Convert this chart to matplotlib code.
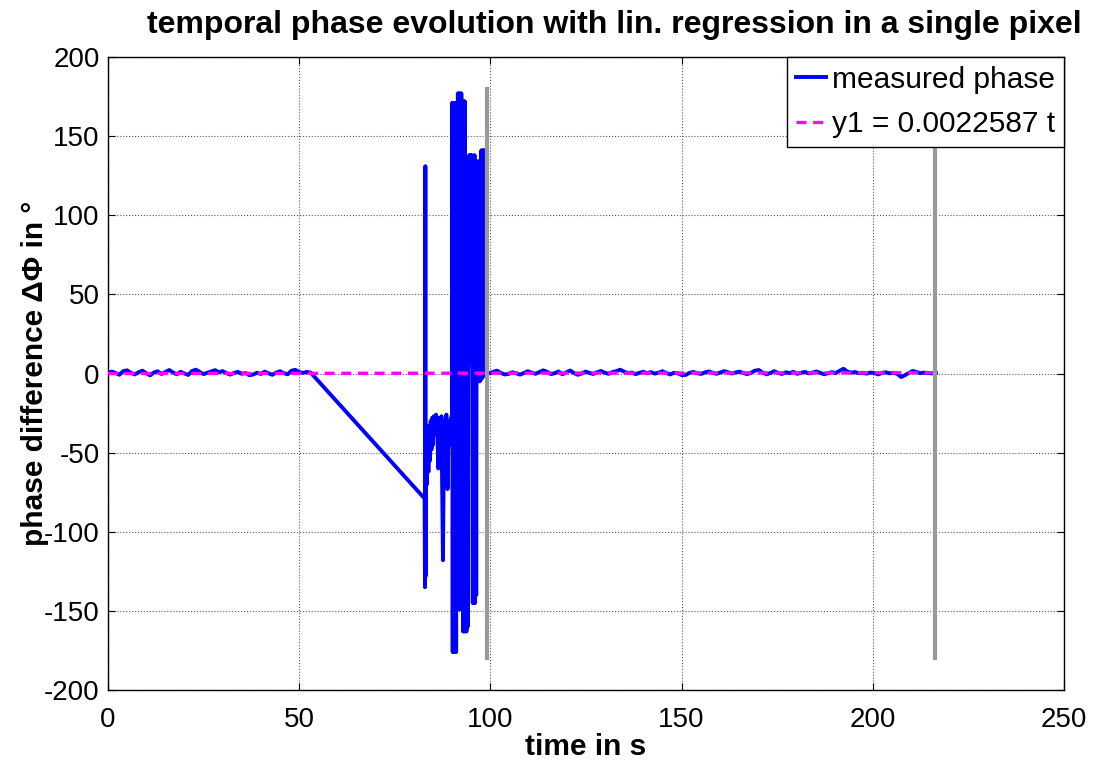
import numpy as np
import matplotlib
matplotlib.use("Agg")
import matplotlib.pyplot as plt

plt.rcParams['font.family'] = ['Liberation Sans', 'DejaVu Sans']
plt.rcParams['axes.unicode_minus'] = False

# ---- data ----
# quiet phase before the disturbance (0 .. 53 s, ~1 s spacing)
pre_y = [0.5, 1.2, 0.3, -0.8, 1.5, 2.0, 0.4, -0.6, 0.8, 1.8, 0.2, -1.2, 0.6, 1.4,
         -0.3, 0.9, 2.2, 0.7, -0.5, 1.1, 0.0, -0.9, 1.6, 2.4, 1.0, -0.4, 0.5, 1.3,
         2.1, 0.8, 1.5, 0.2, -0.7, 0.4, 1.0, -0.2, 0.3, -1.1, -0.6, 0.5, -0.3, 1.2,
         0.1, -0.8, 0.6, 1.4, 0.2, -0.5, 1.8, 2.3, 0.9, 0.4, 1.0, 0.6]
pre_t0, pre_t1 = 0.0, 53.0

# disturbed section (82.8 .. 98.55 s)
chaos_t = [82.8, 82.9, 83.0, 83.1, 83.2, 83.4, 83.6, 83.8, 84.0, 84.2, 84.4, 84.6,
           84.8, 85.0, 85.2, 85.5, 85.8, 86.1, 86.4, 86.6, 86.9, 87.2, 87.6, 87.9,
           88.2, 88.5, 88.8, 89.1, 89.4, 89.7, 89.95,
           90.0, 90.15, 90.3, 90.45, 90.6, 90.75, 90.9, 91.05, 91.2,
           91.35, 91.5, 91.65, 91.8, 91.95, 92.1, 92.25, 92.4, 92.55,
           92.7, 92.85, 93.0, 93.15, 93.3, 93.45,
           93.6, 93.75, 93.9, 94.05, 94.2,
           94.35, 94.5, 94.65, 94.8, 94.95, 95.1, 95.25,
           95.4, 95.55, 95.7, 95.85, 96.0, 96.15, 96.3,
           96.45, 96.6, 96.75, 96.9, 97.05, 97.2,
           97.35, 97.5,
           97.65, 97.8, 97.95, 98.1, 98.25, 98.4, 98.55]
chaos_y = [-79, -135, 131, -128, -40, -70, -35, -62, -33, -55, -30, -48,
           -28, -45, -27, -38, -26, -35, -60, -28, -40, -27, -118, -30,
           -40, -26, -73, -30, -45, -28, -38,
           171, -176, 171, -176, 171, -176, 171, -176, 171,
           -149, 177, -149, 177, -149, 177, -149, 177, -149,
           172, -163, 172, -163, 172, -163,
           126, -163, 117, -160, 120,
           5, 138, 9, 138, 79, 138, 2,
           -145, 134, -145, 138, -145, 134, -140,
           134, 27, 134, -3, 134, -5,
           121, -4,
           141, -3, 141, -2, 141, -1, 141]

# quiet phase after the disturbance (98.7 .. 216.5 s, ~1 s spacing)
post_y = [0.5, 0.2, 1.0, 1.8, 0.4, -0.6, -0.3, 0.8, 0.1, -0.7, 0.3, 1.4, 0.6, -0.2,
          0.9, 2.0, 1.1, -0.4, 0.2, 1.3, -0.5, 0.7, 1.9, 0.3, -0.8, 0.0, 1.2, 0.4,
          -0.3, 0.8, 1.6, 0.5, -0.2, 0.9, 1.5, 2.4, 1.2, 0.3, 0.6, -0.4, 0.4, 1.1,
          0.2, 0.9, -0.1, 0.6, 1.4, 0.3, -0.6, 0.5, 0.1, -1.0, -0.9, 0.4, 1.0, 0.2,
          -0.3, 0.7, 1.3, 0.5, -0.2, 0.6, 1.5, 0.8, 0.0, 0.7, 1.2, 0.3, -0.4, 0.5,
          1.8, 2.2, 0.6, -0.5, 0.3, 1.5, 0.4, -0.3, 0.8, 0.2, 1.1, -0.2, 0.5, 1.0,
          0.1, 0.6, 1.3, 0.4, -0.5, 0.2, 0.9, 0.3, 1.7, 3.0, 1.2, 0.6, 0.9, 0.2,
          0.5, -0.1, 0.6, 0.3, -0.6, 0.4, 0.8, 0.1, 0.5, -0.3, -2.2, -1.0, 0.4,
          1.6, 0.9, 0.2, 0.6, 0.3, 0.1, 0.4]
post_t0, post_t1 = 98.7, 216.5

slope = 0.0022587          # regression y1 = slope * t
fit_t = [0.0, 216.0]

marker_t = [99.1, 216.3]   # grey vertical markers
marker_y = [-180, 180]

xticks = [0, 50, 100, 150, 200, 250]
yticks = [-200, -150, -100, -50, 0, 50, 100, 150, 200]

# ---- assemble the measured series ----
pre_t = np.linspace(pre_t0, pre_t1, len(pre_y))
post_t = np.linspace(post_t0, post_t1, len(post_y))
t_all = np.concatenate([pre_t, np.array(chaos_t), post_t])
y_all = np.concatenate([np.array(pre_y), np.array(chaos_y), np.array(post_y)])

fig = plt.figure(figsize=(10.96, 7.65), dpi=100)
ax = fig.add_axes([0.0985, 0.098, 0.8723, 0.8275])

ax.plot(t_all, y_all, color=(0, 0, 1), lw=2.8, label='measured phase', zorder=3)
fit_t_arr = np.array(fit_t)
ax.plot(fit_t_arr, slope * fit_t_arr, color=(1, 0, 1), lw=2.4, ls=(0, (3, 2)),
        label='y1 = 0.0022587 t', zorder=4)
for mt in marker_t:
    ax.plot([mt, mt], marker_y, color=(0.6, 0.6, 0.6), lw=3.0, zorder=5)

ax.set_xlim(0, 250)
ax.set_ylim(-200, 200)
ax.set_xticks(xticks)
ax.set_yticks(yticks)
ax.tick_params(direction='in', length=5, labelsize=20, top=True, right=True)
ax.tick_params(axis='x', pad=12)
ax.tick_params(axis='y', pad=6)
ax.grid(True, ls=':', color='0.35', lw=0.8)
for s in ax.spines.values():
    s.set_linewidth(1.0)

ax.set_title('temporal phase evolution with lin. regression in a single pixel',
             fontsize=23, fontweight='bold', pad=17, x=0.530)
ax.set_xlabel('time in s', fontsize=21.5, fontweight='bold', labelpad=0)
ax.set_ylabel('phase difference ΔΦ in °', fontsize=21.5, fontweight='bold', labelpad=-4)

leg = ax.legend(loc='upper right', fontsize=21.5, fancybox=False, framealpha=1,
                edgecolor='black', borderaxespad=0, handlelength=1.0,
                handletextpad=0.2, borderpad=0.3, labelspacing=0.55)
leg.get_frame().set_linewidth(1.0)

fig.savefig('out.png', dpi=100)
